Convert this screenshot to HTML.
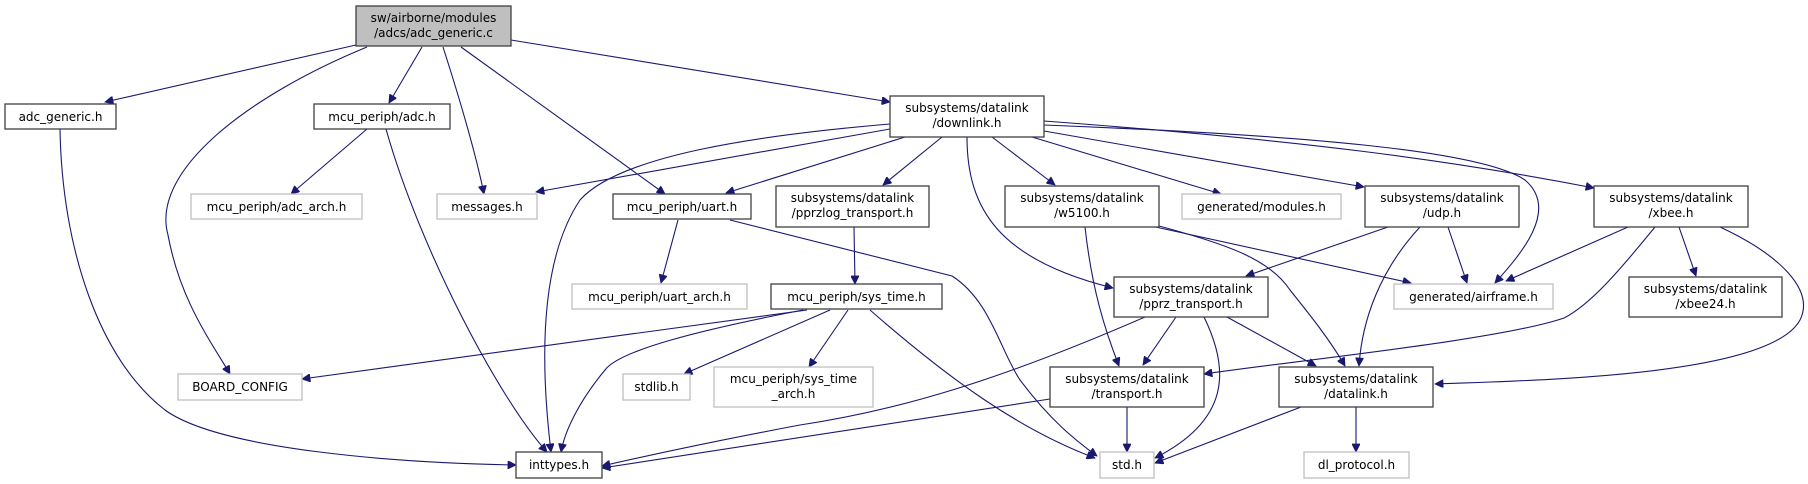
<!DOCTYPE html>
<html><head><meta charset="utf-8"><style>
html,body{margin:0;padding:0;background:#fff;}
svg{display:block;}
text{font-family:"DejaVu Sans","Liberation Sans",sans-serif;font-size:12px;fill:#000;text-anchor:middle;}
.b{fill:#fff;stroke:#404040;stroke-width:1.3;}
.g{fill:#fff;stroke:#bfbfbf;stroke-width:1.3;}
.e{fill:none;stroke:#191970;stroke-width:1.1;marker-end:url(#a);}
</style></head><body>
<svg width="1808" height="484" viewBox="0 0 1808 484" xmlns="http://www.w3.org/2000/svg">
<defs><marker id="a" viewBox="0 0 10 10" refX="10" refY="5" markerWidth="10" markerHeight="8" markerUnits="userSpaceOnUse" orient="auto"><path d="M0,0 L10,5 L0,10 z" fill="#191970" stroke="#191970"/></marker></defs>

<!-- edges -->
<path class="e" d="M356,45 L105,102"/>
<path class="e" d="M367,47 C250,95 150,170 168,235 C180,300 210,340 230,374"/>
<path class="e" d="M422,47 L389,103"/>
<path class="e" d="M443,47 C460,100 475,150 484,194"/>
<path class="e" d="M461,47 L665,194"/>
<path class="e" d="M511,40 L890,102"/>
<path class="e" d="M60,129 C62,250 100,360 165,410 C220,450 400,463 516,465"/>
<path class="e" d="M367,129 L291,194"/>
<path class="e" d="M386,129 C420,250 500,400 547,452"/>
<path class="e" d="M890,129 L536,192"/>
<path class="e" d="M890,124 C760,135 620,155 580,200 C540,260 540,360 551,452"/>
<path class="e" d="M905,137 L726,193"/>
<path class="e" d="M942,137 L883,185"/>
<path class="e" d="M967,137 C967,210 1000,260 1113,288"/>
<path class="e" d="M992,137 L1055,185"/>
<path class="e" d="M1032,137 L1221,194"/>
<path class="e" d="M1044,131 L1364,187"/>
<path class="e" d="M1044,125 C1300,135 1480,150 1525,180 C1560,210 1520,255 1495,283"/>
<path class="e" d="M1044,121 C1300,140 1450,160 1594,188"/>
<path class="e" d="M678,220 L661,283"/>
<path class="e" d="M730,220 L952,276 C990,300 1000,350 1020,380 C1050,420 1075,440 1097,456"/>
<path class="e" d="M854,227 L855,284"/>
<path class="e" d="M807,310 L302,379"/>
<path class="e" d="M803,310 C700,330 620,350 605,370 C580,400 565,430 561,452"/>
<path class="e" d="M830,310 L684,374"/>
<path class="e" d="M848,310 L809,367"/>
<path class="e" d="M870,310 C950,380 1020,430 1095,458"/>
<path class="e" d="M1085,227 C1092,290 1105,330 1119,366"/>
<path class="e" d="M1151,226 L1411,283"/>
<path class="e" d="M1159,226 C1230,245 1270,260 1290,290 C1310,315 1330,340 1345,366"/>
<path class="e" d="M1388,227 L1246,276"/>
<path class="e" d="M1448,227 L1467,283"/>
<path class="e" d="M1420,227 C1380,270 1362,320 1359,366"/>
<path class="e" d="M1176,317 L1143,365"/>
<path class="e" d="M1145,317 C1000,380 900,410 800,425 C720,440 650,455 602,466"/>
<path class="e" d="M1227,317 L1316,366"/>
<path class="e" d="M1204,317 C1230,370 1230,420 1155,458"/>
<path class="e" d="M1050,399 L602,468"/>
<path class="e" d="M1127,407 L1127,452"/>
<path class="e" d="M1301,407 L1155,463"/>
<path class="e" d="M1356,407 L1356,452"/>
<path class="e" d="M1628,227 L1506,281"/>
<path class="e" d="M1655,227 C1620,270 1590,305 1564,318 C1500,340 1300,360 1204,374"/>
<path class="e" d="M1679,227 L1696,276"/>
<path class="e" d="M1720,227 C1780,255 1815,290 1800,320 C1770,375 1550,380 1435,384"/>

<!-- nodes -->
<rect x="356" y="6" width="155" height="40" fill="#bfbfbf" stroke="#404040" stroke-width="1.3"/>
<text x="433.5" y="22">sw/airborne/modules</text><text x="433.5" y="37">/adcs/adc_generic.c</text>

<rect class="b" x="5" y="104" width="111" height="25"/><text x="60.5" y="121">adc_generic.h</text>
<rect class="b" x="314" y="104" width="136" height="25"/><text x="382" y="121">mcu_periph/adc.h</text>
<rect class="b" x="890" y="96" width="154" height="41"/><text x="967" y="112">subsystems/datalink</text><text x="967" y="127">/downlink.h</text>

<rect class="g" x="191" y="194" width="171" height="25"/><text x="276.5" y="211">mcu_periph/adc_arch.h</text>
<rect class="g" x="437" y="194" width="100" height="25"/><text x="487" y="211">messages.h</text>
<rect class="b" x="613" y="194" width="138" height="25"/><text x="682" y="211">mcu_periph/uart.h</text>
<rect class="b" x="776" y="186" width="153" height="41"/><text x="852.5" y="202">subsystems/datalink</text><text x="852.5" y="217">/pprzlog_transport.h</text>
<rect class="b" x="1005" y="186" width="154" height="41"/><text x="1082" y="202">subsystems/datalink</text><text x="1082" y="217">/w5100.h</text>
<rect class="g" x="1182" y="194" width="159" height="25"/><text x="1261.5" y="211">generated/modules.h</text>
<rect class="b" x="1365" y="186" width="154" height="41"/><text x="1442" y="202">subsystems/datalink</text><text x="1442" y="217">/udp.h</text>
<rect class="b" x="1594" y="186" width="154" height="41"/><text x="1671" y="202">subsystems/datalink</text><text x="1671" y="217">/xbee.h</text>

<rect class="g" x="572" y="284" width="175" height="25"/><text x="659.5" y="301">mcu_periph/uart_arch.h</text>
<rect class="b" x="771" y="284" width="171" height="25"/><text x="856.5" y="301">mcu_periph/sys_time.h</text>
<rect class="b" x="1114" y="277" width="154" height="40"/><text x="1191" y="293">subsystems/datalink</text><text x="1191" y="308">/pprz_transport.h</text>
<rect class="g" x="1394" y="284" width="159" height="25"/><text x="1473.5" y="301">generated/airframe.h</text>
<rect class="b" x="1629" y="277" width="153" height="40"/><text x="1705.5" y="293">subsystems/datalink</text><text x="1705.5" y="308">/xbee24.h</text>

<rect class="g" x="178" y="374" width="124" height="26"/><text x="240" y="391">BOARD_CONFIG</text>
<rect class="g" x="623" y="374" width="67" height="26"/><text x="656.5" y="391">stdlib.h</text>
<rect class="g" x="714" y="367" width="159" height="40"/><text x="793.5" y="383">mcu_periph/sys_time</text><text x="793.5" y="398">_arch.h</text>
<rect class="b" x="1050" y="367" width="154" height="40"/><text x="1127" y="383">subsystems/datalink</text><text x="1127" y="398">/transport.h</text>
<rect class="b" x="1279" y="367" width="154" height="40"/><text x="1356" y="383">subsystems/datalink</text><text x="1356" y="398">/datalink.h</text>

<rect class="b" x="516" y="452" width="86" height="26"/><text x="559" y="469">inttypes.h</text>
<rect class="g" x="1100" y="452" width="54" height="26"/><text x="1127" y="469">std.h</text>
<rect class="g" x="1304" y="452" width="105" height="26"/><text x="1356.5" y="469">dl_protocol.h</text>
</svg>
</body></html>
